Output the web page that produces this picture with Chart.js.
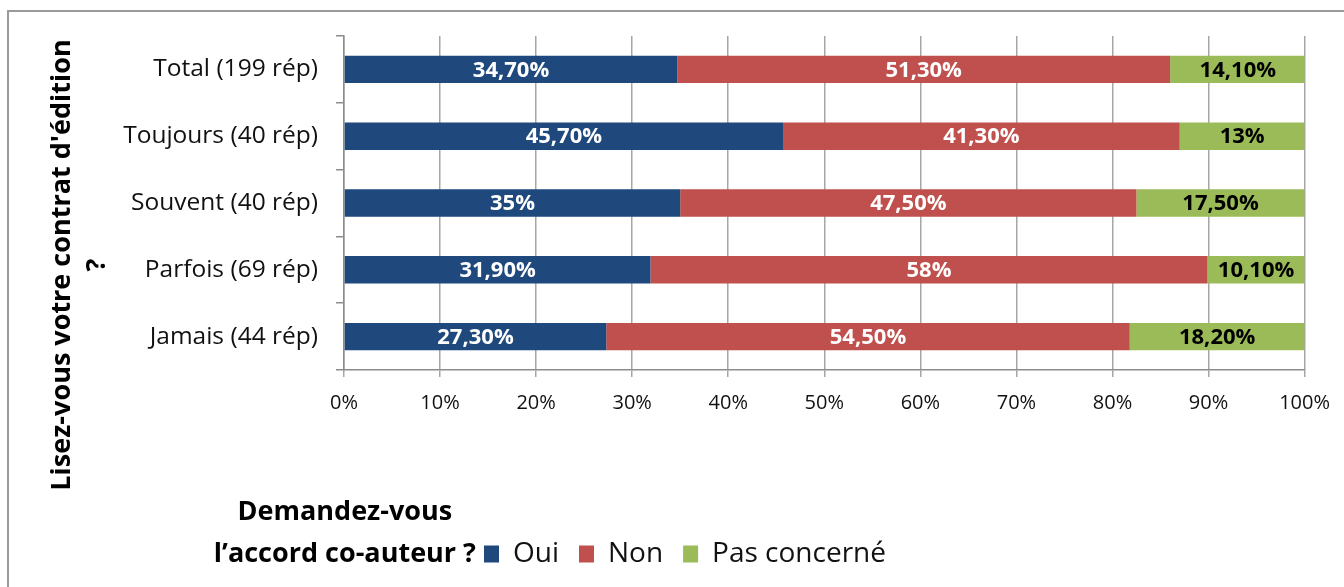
<!DOCTYPE html>
<html>
<head>
<meta charset="utf-8">
<title>Lisez-vous votre contrat d'édition ?</title>
<script src="https://cdn.jsdelivr.net/npm/chart.js@4.4.1/dist/chart.umd.min.js"></script>
<style>
  body { margin: 0; background: #fff; }
  #wrap { position: relative; width: 1344px; height: 587px; }
</style>
</head>
<body>
<div id="wrap"><canvas id="chart" width="1344" height="587"></canvas></div>
<script>
// data
var categories = ['Total (199 rép)', 'Toujours (40 rép)', 'Souvent (40 rép)', 'Parfois (69 rép)', 'Jamais (44 rép)'];
var seriesNames = ['Oui', 'Non', 'Pas concerné'];
var oui = [34.7, 45.7, 35, 31.9, 27.3];
var non = [51.3, 41.3, 47.5, 58, 54.5];
var pasConcerne = [14.1, 13, 17.5, 10.1, 18.2];
var xTickLabels = ['0%', '10%', '20%', '30%', '40%', '50%', '60%', '70%', '80%', '90%', '100%'];
var yTitle = ["Lisez-vous votre contrat d'édition", '?'];
var legendTitle = ['Demandez-vous', 'l\u2019accord co-auteur ?'];

var colours = ['#1F497D', '#C0504D', '#9BBB59'];
var labelColours = ['#ffffff', '#ffffff', '#000000'];
var FONT = "'Open Sans', sans-serif";

Chart.defaults.font.family = FONT;
Chart.defaults.color = '#000';

function formatPct(v) {
  if (Number.isInteger(v)) return v + '%';
  return v.toFixed(2).replace('.', ',') + '%';
}

// outer frame of the chart object
var frame = {
  id: 'frame',
  beforeDraw: function(chart) {
    var ctx = chart.ctx;
    ctx.save();
    ctx.strokeStyle = '#9a9a9a';
    ctx.lineWidth = 2;
    ctx.beginPath();
    ctx.moveTo(8, 587);
    ctx.lineTo(8, 11);
    ctx.lineTo(1344, 11);
    ctx.stroke();
    ctx.restore();
  }
};

// value labels in the middle of each segment
var barLabels = {
  id: 'barLabels',
  afterDatasetsDraw: function(chart) {
    var ctx = chart.ctx;
    ctx.save();
    ctx.font = 'bold 22px ' + FONT;
    ctx.textAlign = 'center';
    ctx.textBaseline = 'middle';
    chart.data.datasets.forEach(function(ds, i) {
      var meta = chart.getDatasetMeta(i);
      meta.data.forEach(function(bar, j) {
        var x = (bar.x + bar.base) / 2;
        ctx.fillStyle = labelColours[i];
        ctx.fillText(formatPct(ds.data[j]), x, bar.y + 1);
      });
    });
    ctx.restore();
  }
};

// rotated y title and the legend title on the left of the legend
var titles = {
  id: 'titles',
  afterDraw: function(chart) {
    var ctx = chart.ctx;
    ctx.save();
    ctx.fillStyle = '#000';
    ctx.textAlign = 'center';
    ctx.textBaseline = 'middle';
    ctx.font = 'bold 27px ' + FONT;
    ctx.translate(0, 265);
    ctx.rotate(-Math.PI / 2);
    ctx.fillText(yTitle[0], 0, 62);
    ctx.fillText(yTitle[1], 0, 97);
    ctx.restore();

    var legend = chart.legend;
    var box = legend.legendHitBoxes[0];
    var cy = box.top + box.height / 2;
    ctx.save();
    ctx.fillStyle = '#000';
    ctx.font = 'bold 27px ' + FONT;
    ctx.textAlign = 'center';
    ctx.textBaseline = 'middle';
    var w = ctx.measureText(legendTitle[1]).width;
    var cx = box.left - 8 - w / 2;
    ctx.fillText(legendTitle[1], cx, cy);
    ctx.fillText(legendTitle[0], cx, cy - 42);
    ctx.restore();
  }
};

var ctx = document.getElementById('chart').getContext('2d');
var chart = new Chart(ctx, {
  type: 'bar',
  data: {
    labels: categories,
    datasets: [
      { label: seriesNames[0], data: oui, backgroundColor: colours[0] },
      { label: seriesNames[1], data: non, backgroundColor: colours[1] },
      { label: seriesNames[2], data: pasConcerne, backgroundColor: colours[2] }
    ]
  },
  options: {
    indexAxis: 'y',
    responsive: false,
    animation: false,
    barPercentage: 0.41,
    categoryPercentage: 1,
    layout: { padding: { left: 65, right: 39, top: 36, bottom: 9 } },
    scales: {
      x: {
        stacked: true,
        min: 0,
        max: 100,
        ticks: {
          stepSize: 10,
          padding: 14,
          color: '#111',
          font: { size: 20 },
          callback: function(v, i) { return xTickLabels[i]; }
        },
        grid: { color: '#a6a6a6', lineWidth: 1.5, tickLength: 7 },
        border: { color: '#8c8c8c', width: 1.5 },
        afterFit: function(scale) { scale.height = 150; }
      },
      y: {
        stacked: true,
        ticks: { padding: 18, color: '#111', font: { size: 24.5 } },
        grid: { drawOnChartArea: false, tickLength: 8, color: '#8c8c8c', lineWidth: 1.5 },
        border: { color: '#8c8c8c', width: 1.5 },
        afterFit: function(scale) { scale.width = 344 - 65; }
      }
    },
    plugins: {
      legend: {
        position: 'bottom',
        labels: {
          boxWidth: 15,
          boxHeight: 17,
          padding: 20,
          color: '#111',
          font: { size: 28 }
        }
      },
      tooltip: { enabled: false }
    }
  },
  plugins: [frame, barLabels, titles]
});
</script>
</body>
</html>
